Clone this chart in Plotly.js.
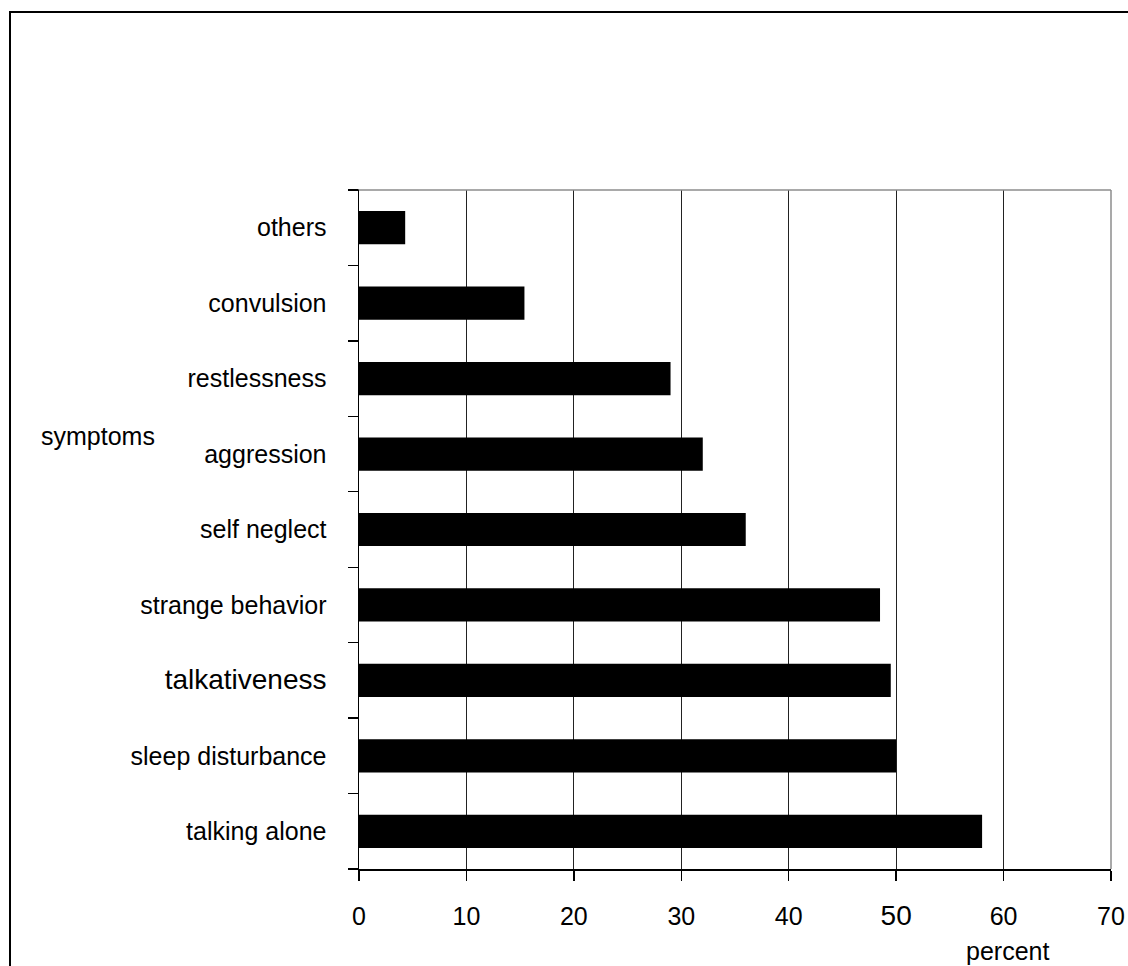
<!DOCTYPE html>
<html>
<head>
<meta charset="utf-8">
<script src="https://cdn.plot.ly/plotly-3.0.1.min.js"></script>
<style>
html,body{margin:0;padding:0;background:#fff;}
#chart{width:1128px;height:966px;}
</style>
</head>
<body>
<div id="chart"></div>
<script>
// Data (bottom to top)
var symptoms = ["talking alone","sleep disturbance","talkativeness","strange behavior","self neglect","aggression","restlessness","convulsion","others"];
var percent = [58, 50, 49.5, 48.5, 36, 32, 29, 15.4, 4.3];
var xTickVals = [0,10,20,30,40,50,60,70];
var xTickLabels = ["0","10","20","30","40","50","60","70"];

var FONT = "Liberation Sans, Arial, Helvetica, sans-serif";

var yTickText = symptoms.map(function(s){
  return s === "talkativeness" ? '<span style="font-size:28px">' + s + '</span>' : s;
});
var xTickText = xTickLabels.map(function(s){
  return s === "50" ? '<span style="font-size:28px">' + s + '</span>' : s;
});

var trace = {
  type: "bar",
  orientation: "h",
  x: percent,
  y: symptoms,
  marker: {color: "#000000", line: {width: 0}},
  hoverinfo: "x+y"
};

var L = 359, R = 17, T = 190, B = 97;
var W = 1128, H = 966;
var pw = W - L - R, ph = H - T - B;
function px(x){ return (x - L) / pw; }
function py(y){ return (H - B - y) / ph; }

var layout = {
  width: W, height: H,
  margin: {l: L, r: R, t: T, b: B, pad: 0},
  paper_bgcolor: "#ffffff",
  plot_bgcolor: "#ffffff",
  showlegend: false,
  bargap: 0.56,
  font: {family: FONT, size: 25, color: "#000"},
  xaxis: {
    range: [0, 70],
    tickmode: "array",
    tickvals: xTickVals,
    ticktext: xTickText,
    ticks: "outside",
    ticklen: 10,
    tickwidth: 1.3,
    tickcolor: "#000",
    ticklabelstandoff: 14,
    showgrid: true,
    gridcolor: "#222",
    gridwidth: 1,
    zeroline: false,
    showline: true,
    linecolor: "#000",
    linewidth: 1.5,
    tickfont: {family: FONT, size: 25, color: "#000"},
    fixedrange: true
  },
  yaxis: {
    type: "category",
    categoryorder: "array",
    categoryarray: symptoms,
    tickmode: "array",
    tickvals: symptoms,
    ticktext: yTickText,
    tickson: "boundaries",
    ticks: "outside",
    ticklen: 10,
    tickwidth: 1.3,
    tickcolor: "#000",
    ticklabelstandoff: 26,
    showgrid: false,
    zeroline: false,
    showline: true,
    linecolor: "#000",
    linewidth: 1.5,
    tickfont: {family: FONT, size: 25, color: "#000"},
    fixedrange: true
  },
  shapes: [
    {type: "line", xref: "paper", yref: "paper", x0: 0, x1: 1, y0: 1, y1: 1,
     line: {color: "#8c8c8c", width: 1.5}},
    {type: "line", xref: "paper", yref: "paper", x0: 1, x1: 1, y0: 0, y1: 1,
     line: {color: "#8c8c8c", width: 1.5}},
    {type: "line", xref: "paper", yref: "paper", x0: px(349), x1: 0, y0: 1, y1: 1,
     line: {color: "#000", width: 1.3}},
    {type: "rect", xref: "paper", yref: "paper", x0: px(10), x1: px(1140), y0: py(12), y1: py(980),
     line: {color: "#000", width: 2}, fillcolor: "rgba(0,0,0,0)"}
  ],
  annotations: [
    {text: "symptoms", xref: "paper", yref: "paper", x: px(98), y: py(436),
     xanchor: "center", yanchor: "middle", showarrow: false,
     font: {family: FONT, size: 25, color: "#000"}},
    {text: "percent", xref: "paper", yref: "paper", x: px(1007), y: py(951),
     xanchor: "center", yanchor: "middle", showarrow: false,
     font: {family: FONT, size: 25, color: "#000"}}
  ]
};

Plotly.newPlot("chart", [trace], layout, {displayModeBar: false, staticPlot: true});
</script>
</body>
</html>
